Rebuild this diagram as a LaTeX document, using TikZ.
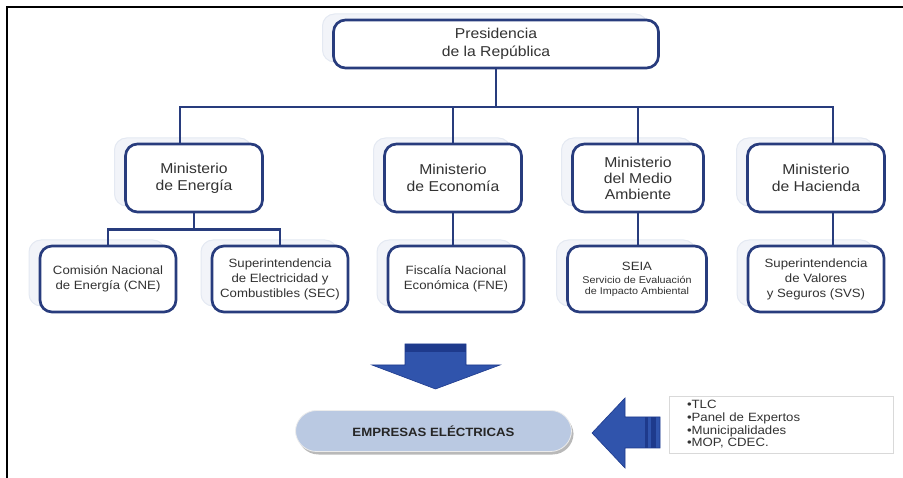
\documentclass[tikz,border=0pt]{standalone}
\usepackage{fontspec}
\setmainfont{Liberation Sans}[FakeStretch=1.1]
\usetikzlibrary{shadows}

\definecolor{navy}{RGB}{40,60,125}
\definecolor{ghost}{RGB}{242,244,249}
\definecolor{ghostline}{RGB}{228,233,242}
\definecolor{arrowblue}{RGB}{48,84,172}
\definecolor{arrowdark}{RGB}{30,58,140}
\definecolor{textgray}{RGB}{50,50,50}
\definecolor{pillfill}{RGB}{186,201,226}

\begin{document}
\begin{tikzpicture}[x=1pt,y=-1pt,
	box/.style={draw=navy, fill=white, line width=2.7pt, rounded corners=12pt, align=center, text=textgray,
		general shadow={fill=ghost, draw=ghostline, line width=1pt, shadow xshift=-11pt, shadow yshift=6pt}},
	mini/.style={box, minimum width=137pt, minimum height=68pt, font=\fontsize{14.3}{17}\selectfont},
	office/.style={box, minimum width=136pt, minimum height=66pt, font=\fontsize{12}{15}\selectfont},
	conn/.style={draw=navy, line width=2.7pt},
	blockarrow/.style={fill=arrowblue, draw=arrowdark, line width=0.6pt}]
	
	\useasboundingbox (0,0) rectangle (903,478);
	\draw[line width=2pt] (7,478) -- (7,7) -- (903,7);
	
	\node[box, minimum width=325pt, minimum height=48pt, font=\fontsize{14.3}{18}\selectfont] (pres) at (496,44) {Presidencia\\de la República};
	
	\node[mini] (ener) at (194,178) {Ministerio\\de Energía};
	\node[mini] (econ) at (453,178) {Ministerio\\de Economía};
	\node[mini, minimum width=131pt, font=\fontsize{14.3}{16}\selectfont] (amb) at (638,178) {Ministerio\\del Medio\\Ambiente};
	\node[mini] (hac) at (816,178) {Ministerio\\de Hacienda};
	
	\node[office] (cne) at (108,279) {Comisión Nacional\\de Energía (CNE)};
	\node[office] (sec) at (280,279) {Superintendencia\\de Electricidad y\\Combustibles (SEC)};
	\node[office] (fne) at (456,279) {Fiscalía Nacional\\Económica (FNE)};
	\node[office, minimum width=139pt, font=\fontsize{9.8}{10.5}\selectfont] (seia) at (637,279) {{\fontsize{12}{15}\selectfont SEIA}\\[3pt]Servicio de Evaluación\\de Impacto Ambiental};
	\node[office] (svs) at (816,279) {Superintendencia\\de Valores\\y Seguros (SVS)};
	
	\coordinate (busE) at (180,107);
	\coordinate (busH) at (833,107);
	
	\draw[conn] (pres.south) -- (pres.south |- busE);
	\draw[conn] (busE |- ener.north) -- (busE) -- (busH) -- (busH |- hac.north);
	\draw[conn] (econ.north) -- (econ.north |- busE);
	\draw[conn] (amb.north) -- (amb.north |- busE);
	
	\draw[conn] (ener.south) -- ++(0,16) coordinate (subE);
	\draw[conn] (cne.north) |- (subE) -| (sec.north);
	\draw[conn] (econ.south) -- (econ.south |- fne.north);
	\draw[conn] (amb.south) -- (amb.south |- seia.north);
	\draw[conn] (busH |- hac.south) -- (busH |- svs.north);
	
	\draw[blockarrow] (405,344) -- (466,344) -- (466,365) -- (500,365) -- (435.5,389) -- (372,365) -- (405,365) -- cycle;
	\fill[arrowdark] (405.3,344.3) rectangle (465.7,352);
	
	\draw[blockarrow] (660,417) -- (660,448) -- (625,448) -- (625,468) -- (592,433) -- (625,398) -- (625,417) -- cycle;
	\fill[arrowdark] (645,417.3) rectangle (648,447.7);
	\fill[arrowdark] (651,417.3) rectangle (656,447.7);
	
	\node[draw=white!85!gray, line width=0.8pt, rounded corners=21pt, minimum width=276pt, minimum height=41pt,
		fill=pillfill, drop shadow={shadow xshift=2pt, shadow yshift=-3pt, opacity=0.55, fill=gray},
		font=\bfseries\fontsize{12}{14}\selectfont, text=black!85] (emp) at (433.5,431) {EMPRESAS ELÉCTRICAS};
	
	\node[draw=black!15, line width=0.8pt, minimum width=224pt, minimum height=57pt, text width=188pt,
		inner xsep=18pt, align=left, font=\fontsize{12}{12.7}\selectfont, text=textgray] (otros) at (781,424.5)
		{•TLC\\•Panel de Expertos\\•Municipalidades\\•MOP, CDEC.};
	
\end{tikzpicture}
\end{document}
